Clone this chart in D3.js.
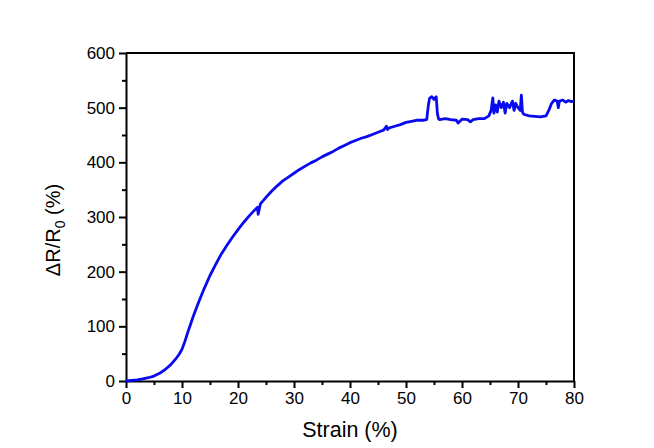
<!DOCTYPE html>
<html>
<head>
<meta charset="utf-8">
<script src="https://cdn.jsdelivr.net/npm/d3@7"></script>
<style>
  body { margin: 0; background: #fff; }
  text { font-family: 'Liberation Sans', Arial, sans-serif; fill: #000; }
</style>
</head>
<body>
<div id="chart"></div>
<script>
// strain (%) and resistance change (%)
const strain = [0, 1, 2, 3, 4, 5, 6, 7, 8, 9, 9.5, 10, 10.5, 11, 11.5, 12, 13, 14, 15, 16, 17, 18, 19, 20,
  21, 22, 23, 23.5, 23.6, 24, 25, 26, 27, 28, 29, 30, 31, 32, 33, 34, 35, 36, 37, 38, 39, 40,
  41, 42, 43, 44, 45, 46, 46.5, 46.7, 47, 48, 49, 50, 51, 52, 53, 53.7, 54, 54.2, 54.6, 55, 55.4,
  55.6, 55.8, 56, 57, 58, 59, 59.3, 60, 61, 61.5, 62, 63, 64, 64.8, 65.2, 65.5, 65.7, 66, 66.3,
  66.6, 67, 67.4, 67.7, 68, 68.5, 69, 69.3, 69.6, 70, 70.4, 70.6, 70.8, 71, 72, 73, 74, 75, 75.5,
  76, 76.5, 77, 77.2, 77.4, 78, 78.5, 79, 79.5, 80]
const deltaR = [0, 1, 2, 4, 6, 9, 14, 21, 30, 42, 49, 58, 72, 88, 103, 118, 145, 170, 193, 213, 232, 248, 263, 277,
  290, 302, 313, 318, 305, 324, 336, 347, 357, 366, 373, 380, 387, 393, 399, 404, 410, 415, 420, 426, 431, 436,
  440, 444, 447, 451, 455, 459, 466, 460, 463, 466, 469, 473, 475, 477, 477, 478, 505, 517, 520, 515, 520,
  490, 480, 478, 480, 478, 477, 472, 479, 478, 474, 478, 480, 480, 485, 495, 518, 490, 505, 492,
  512, 500, 510, 490, 508, 500, 512, 495, 508, 500, 495, 523, 492, 488, 485, 484, 483, 485, 495,
  508, 514, 512, 500, 512, 514, 510, 513, 511, 512]

const xTicks = [0, 10, 20, 30, 40, 50, 60, 70, 80]
const yTicks = [0, 100, 200, 300, 400, 500, 600]

const width = 654
const height = 448
const margin = { top: 53, right: 80, bottom: 67, left: 126 }

const svg = d3.select('#chart')
  .append('svg')
  .attr('width', width)
  .attr('height', height)

svg.append('rect').attr('width', width).attr('height', height).attr('fill', '#fff')

const xScale = d3.scaleLinear()
  .domain([0, 80])
  .range([margin.left, width - margin.right])

const yScale = d3.scaleLinear()
  .domain([0, 600])
  .range([height - margin.bottom, margin.top])

// minor ticks first, then the major ones on top
const xMinor = d3.axisBottom(xScale).tickValues(d3.range(5, 80, 10)).tickSize(4).tickFormat('')
const yMinor = d3.axisLeft(yScale).tickValues(d3.range(50, 600, 100)).tickSize(4).tickFormat('')

svg.append('g')
  .attr('transform', `translate(0,${height - margin.bottom})`)
  .call(xMinor)
  .call(g => g.select('.domain').remove())
  .selectAll('line').attr('stroke-width', 2)

svg.append('g')
  .attr('transform', `translate(${margin.left},0)`)
  .call(yMinor)
  .call(g => g.select('.domain').remove())
  .selectAll('line').attr('stroke-width', 2)

const xAxis = svg.append('g')
  .attr('transform', `translate(0,${height - margin.bottom})`)
  .call(d3.axisBottom(xScale).tickValues(xTicks).tickSize(7).tickSizeOuter(0).tickPadding(4))

const yAxis = svg.append('g')
  .attr('transform', `translate(${margin.left},0)`)
  .call(d3.axisLeft(yScale).tickValues(yTicks).tickSize(7).tickSizeOuter(0).tickPadding(4))

for (const g of [xAxis, yAxis]) {
  g.select('.domain').attr('stroke-width', 2)
  g.selectAll('.tick line').attr('stroke-width', 2)
  g.selectAll('.tick text').attr('font-size', 17).attr('font-family', null)
}

// top and right frame
svg.append('path')
  .attr('d', `M${xScale(0)},${yScale(600)}H${xScale(80)}V${yScale(0)}`)
  .attr('fill', 'none')
  .attr('stroke', '#000')
  .attr('stroke-width', 2)

const points = strain.map((s, i) => [s, deltaR[i]])

svg.append('path')
  .datum(points)
  .attr('fill', 'none')
  .attr('stroke', '#0a0aee')
  .attr('stroke-width', 2.8)
  .attr('stroke-linejoin', 'round')
  .attr('d', d3.line().x(d => xScale(d[0])).y(d => yScale(d[1])))

svg.append('text')
  .attr('x', (xScale(0) + xScale(80)) / 2)
  .attr('y', 437)
  .attr('text-anchor', 'middle')
  .attr('font-size', 21.5)
  .text('Strain (%)')

const yLabel = svg.append('text')
  .attr('transform', 'translate(60,230) rotate(-90)')
  .attr('text-anchor', 'middle')
  .attr('font-size', 20)
yLabel.append('tspan').text('ΔR/R')
yLabel.append('tspan').attr('font-size', 14).attr('dy', 5).text('0')
yLabel.append('tspan').attr('dy', -5).text(' (%)')
</script>
</body>
</html>
